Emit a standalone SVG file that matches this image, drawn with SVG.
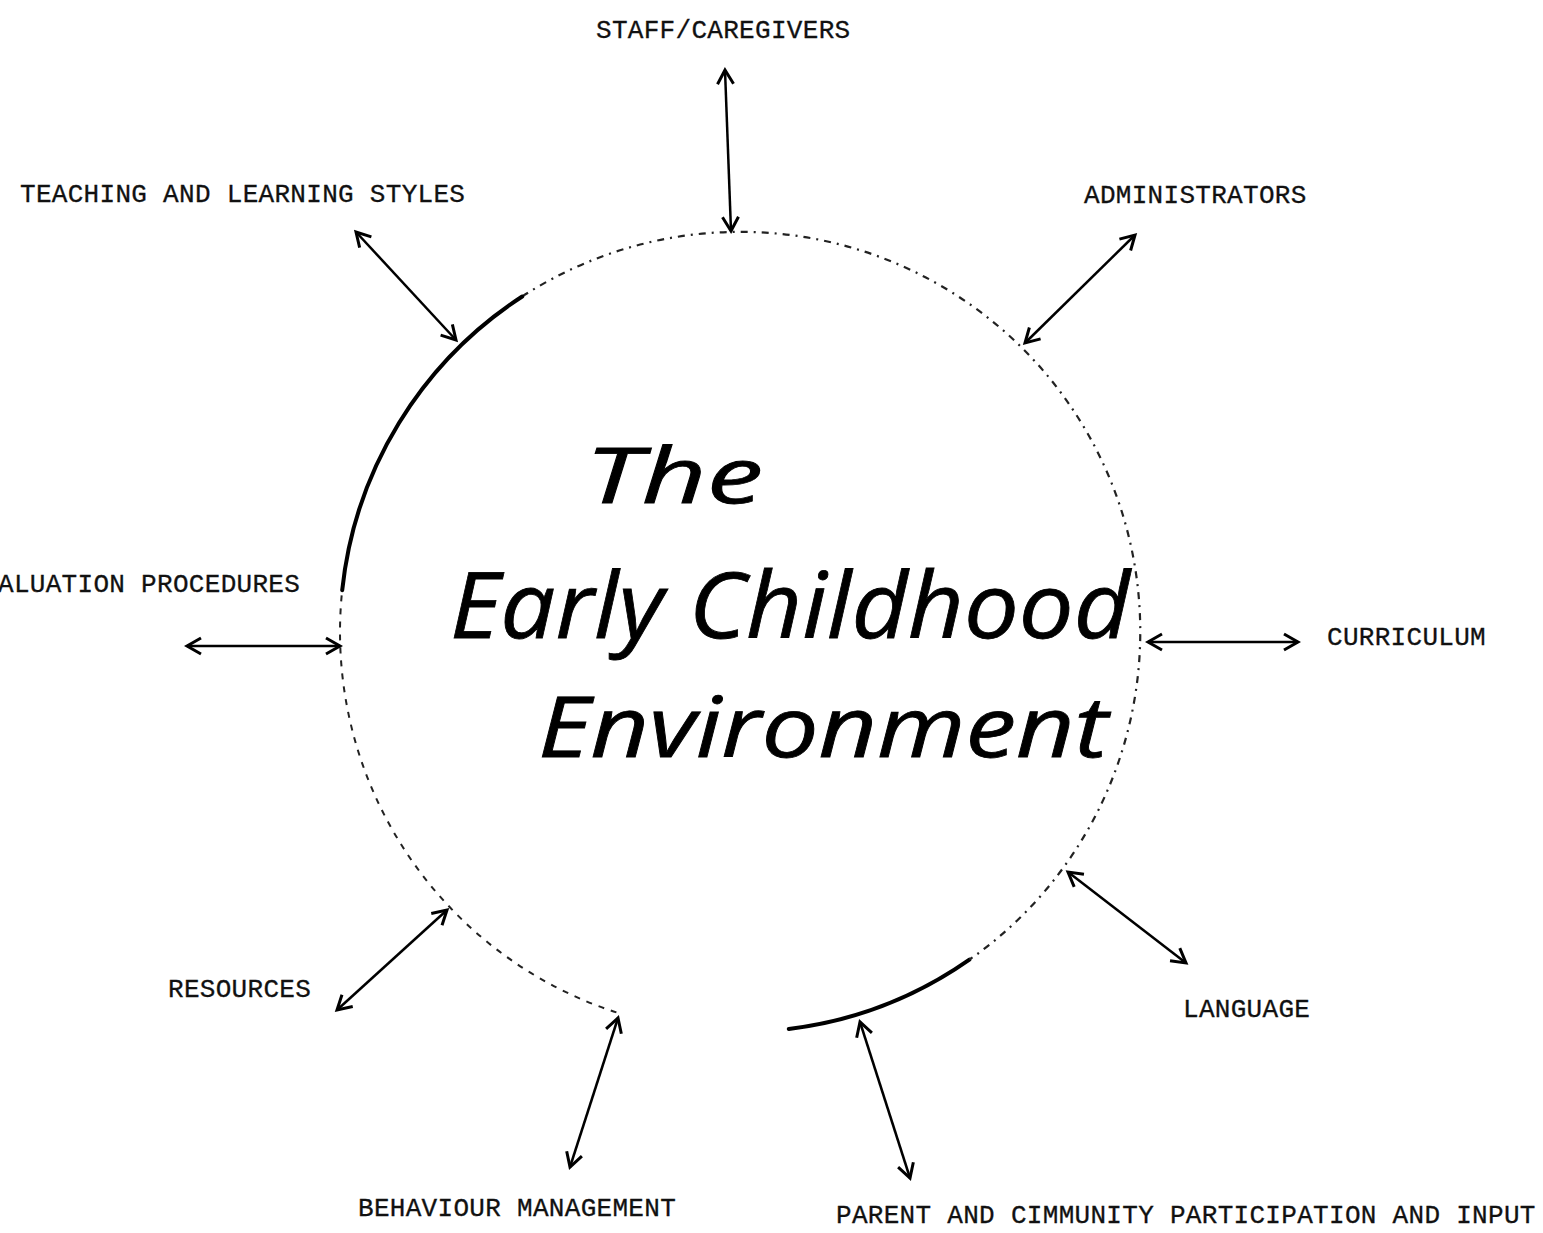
<svg xmlns="http://www.w3.org/2000/svg" width="1543" height="1233" viewBox="0 0 1543 1233">
  <defs>
    <style>
      .label { font-family: "Liberation Mono", "Courier New", monospace; font-size: 26px; letter-spacing: 0.3px; fill: #111; stroke: #111; stroke-width: 0.3; }
      .hand { font-family: "Open Sans", "Liberation Sans", sans-serif; font-style: italic; fill: #000; stroke: #000; stroke-width: 0.8; }
      .link { stroke: #000; stroke-width: 2.5; fill: none; marker-start: url(#head); marker-end: url(#head); }
      .rim-solid { fill: none; stroke: #000; stroke-width: 4; stroke-linecap: round; }
      .rim-dash { fill: none; stroke: #222; stroke-width: 2.2; stroke-dasharray: 7 6 2 6; }
      .rim-dot { fill: none; stroke: #222; stroke-width: 2; stroke-dasharray: 6 7; }
    </style>
    <marker id="head" viewBox="0 0 20 20" refX="17" refY="10" markerWidth="20" markerHeight="20" markerUnits="userSpaceOnUse" orient="auto-start-reverse">
      <path d="M3,2 L17,10 L3,18" fill="none" stroke="#000" stroke-width="3" stroke-linejoin="miter"/>
    </marker>
  </defs>
  <rect width="1543" height="1233" fill="#fff"/>

  <!-- central circle: solid and broken arcs -->
  <g id="environment">
    <path class="rim-solid" d="M969.4,959.7 A400,400 0 0 1 788.8,1029"/>
    <path class="rim-dash" d="M522.2,296.5 A400,400 0 0 1 969.4,959.7"/>
    <path class="rim-solid" d="M342.2,590.2 A400,400 0 0 1 522.2,296.5"/>
    <path class="rim-dot" d="M616.4,1012.4 A400,400 0 0 1 342.2,590.2"/>
    <text class="hand" x="585" y="503" font-size="76" textLength="178" lengthAdjust="spacingAndGlyphs">The</text>
    <text class="hand" x="450" y="638" font-size="92" textLength="680" lengthAdjust="spacingAndGlyphs">Early Childhood</text>
    <text class="hand" x="538" y="757" font-size="84" textLength="570" lengthAdjust="spacingAndGlyphs">Environment</text>
  </g>

  <!-- surrounding factors -->
  <g id="staff"><text class="label" x="596" y="38">STAFF/CAREGIVERS</text></g>
  <g id="teaching"><text class="label" x="20" y="202">TEACHING AND LEARNING STYLES</text></g>
  <g id="administrators"><text class="label" x="1084" y="203">ADMINISTRATORS</text></g>
  <g id="evaluation"><text class="label" x="-2" y="592">ALUATION PROCEDURES</text></g>
  <g id="curriculum"><text class="label" x="1327" y="645">CURRICULUM</text></g>
  <g id="resources"><text class="label" x="168" y="997">RESOURCES</text></g>
  <g id="language"><text class="label" x="1183" y="1017">LANGUAGE</text></g>
  <g id="behaviour"><text class="label" x="358" y="1216">BEHAVIOUR MANAGEMENT</text></g>
  <g id="parent"><text class="label" x="836" y="1223">PARENT AND CIMMUNITY PARTICIPATION AND INPUT</text></g>

  <!-- two-way links between circle and factors -->
  <g id="connectors">
    <line class="link" x1="725" y1="70" x2="731" y2="231"/>
    <line class="link" x1="356" y1="232" x2="456" y2="340"/>
    <line class="link" x1="1135" y1="235" x2="1025" y2="343"/>
    <line class="link" x1="187" y1="646" x2="340" y2="646"/>
    <line class="link" x1="1148" y1="642" x2="1298" y2="642"/>
    <line class="link" x1="1068" y1="872" x2="1186" y2="963"/>
    <line class="link" x1="337" y1="1010" x2="447" y2="910"/>
    <line class="link" x1="570" y1="1167" x2="618" y2="1018"/>
    <line class="link" x1="860" y1="1022" x2="910" y2="1178"/>
  </g>
</svg>
